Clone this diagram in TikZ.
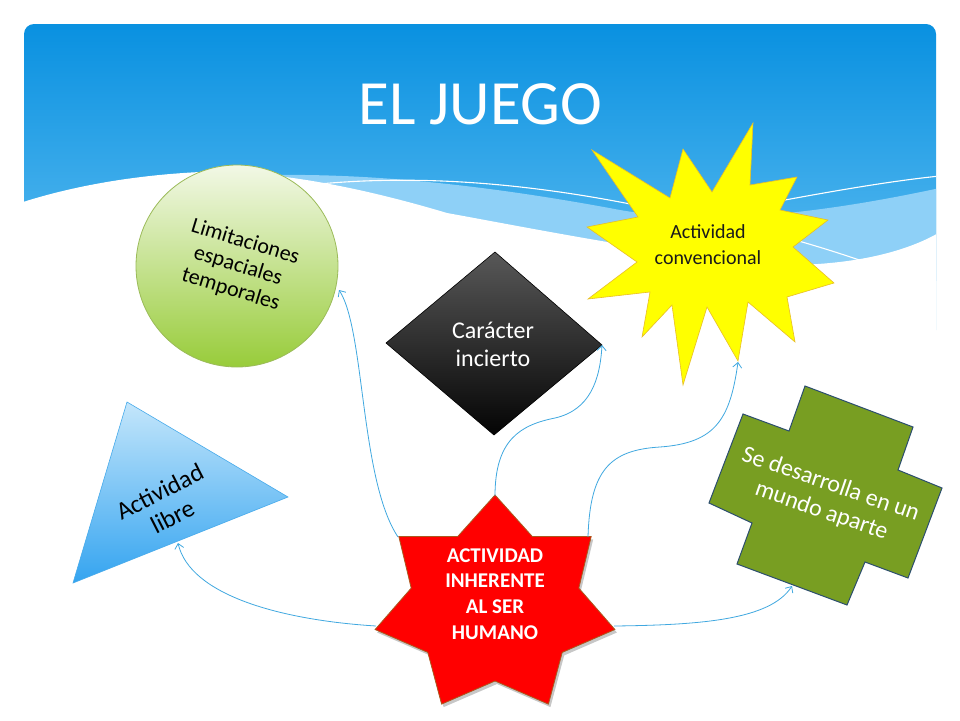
\documentclass[tikz,border=0pt]{standalone}
\usepackage{fontspec}
\setmainfont{Carlito}
\usetikzlibrary{arrows.meta}
\definecolor{skytop}{RGB}{8,144,224}
\definecolor{skybot}{RGB}{88,186,240}
\definecolor{bandc}{RGB}{142,208,247}
\definecolor{connc}{RGB}{64,168,224}
\definecolor{circtop}{RGB}{242,248,230}
\definecolor{circbot}{RGB}{152,204,58}
\definecolor{circline}{RGB}{155,187,89}
\definecolor{tritop}{RGB}{196,230,251}
\definecolor{tribot}{RGB}{52,164,240}
\definecolor{triline}{RGB}{70,170,235}
\definecolor{diatop}{RGB}{88,88,88}
\definecolor{diabot}{RGB}{4,4,4}
\definecolor{starfill}{RGB}{255,255,0}
\definecolor{starline}{RGB}{232,190,40}
\definecolor{crossfill}{RGB}{120,158,34}
\definecolor{crossline}{RGB}{44,78,110}
\definecolor{redfill}{RGB}{255,0,0}
\definecolor{redline}{RGB}{170,90,30}
\definecolor{darktext}{RGB}{26,26,26}
\begin{document}
\begin{tikzpicture}[x=1pt,y=-1pt,
  connector/.style={draw=connc, line width=0.8pt, -{Straight Barb[length=5pt,width=9pt]}},
  lbl/.style={align=center, inner sep=0pt},
  wline/.style={draw=white, line width=1.1pt}]
\useasboundingbox (0,0) rectangle (960,720);
\fill[white] (0,0) rectangle (960,720);
% sky background
\begin{scope}
  \clip[rounded corners=10pt] (24,24) rectangle (936,760);
  \shade[top color=skytop, bottom color=skybot] (20,20) rectangle (940,280);
  \fill[bandc] (240,176) .. controls (330,172) and (450,178) .. (620,210)
     .. controls (700,224) and (800,218) .. (940,188) -- (940,330) -- (240,330) -- cycle;
  \draw[wline] (300,186) .. controls (420,172) and (540,185) .. (650,208);
  \draw[wline] (785,200) .. controls (850,188) and (900,180) .. (940,176);
  \fill[white] (20,203) .. controls (60,190) and (120,176) .. (200,172)
     .. controls (280,170) and (370,190) .. (447,213)
     .. controls (530,228) and (700,262) .. (793,265)
     .. controls (860,264) and (910,250) .. (940,232) -- (940,760) -- (20,760) -- cycle;
  \draw[wline] (795,240) .. controls (820,247) and (845,255) .. (868,263);
\end{scope}
% title
\node[lbl, text=white, font=\fontsize{63}{63}\selectfont, anchor=base] (title) at (480,124) {EL JUEGO};
% circle
\shadedraw[top color=circtop, bottom color=circbot, draw=circline, line width=0.8pt] (237,266) circle[radius=101];
\node[lbl, rotate=-17, font=\fontsize{22}{25}\selectfont] (lim) at (238,266) {Limitaciones\\espaciales\\temporales};
% triangle
\shadedraw[top color=tritop, bottom color=tribot, draw=triline, line width=0.6pt] (127,402) -- (288,497) -- (73,583) -- cycle;
\node[lbl, rotate=27, font=\fontsize{25}{28}\selectfont] (libre) at (166,504) {Actividad\\libre};
% diamond
\shadedraw[top color=diatop, bottom color=diabot, draw=black, line width=0.6pt] (495,252) -- (602,345) -- (494,435) -- (386,343) -- cycle;
\node[lbl, text=white, font=\fontsize{24}{28}\selectfont] (incierto) at (493,344) {Carácter\\incierto};
% yellow star
\filldraw[fill=starfill, draw=starline, line width=0.6pt]
  (592,150) -- (670,198) -- (683,149) -- (712,192) -- (753,123) -- (750,185) -- (797,177) -- (780,210)
  -- (828,220) -- (793,247) -- (834,283) -- (787,297) -- (795,342) -- (748,302) -- (738,361) -- (707,307)
  -- (683,385) -- (672,305) -- (642,337) -- (650,292) -- (588,299) -- (637,262) -- (587,227) -- (638,217) -- cycle;
\node[lbl, text=darktext, font=\fontsize{20}{26}\selectfont] (conv) at (708,245) {Actividad\\convencional};
% green cross
\filldraw[fill=crossfill, draw=crossline, line width=1pt]
  (805,386) -- (913,427) -- (898,470) -- (942,488) -- (908,578) -- (865,562) -- (847,605) -- (737,564)
  -- (752,523) -- (709,503) -- (743,414) -- (789,431) -- cycle;
\node[lbl, text=white, rotate=-19, font=\fontsize{24}{28}\selectfont] (mundo) at (826,498) {Se desarrolla en un\\mundo aparte};
% red star shadow and star
\fill[black, opacity=0.22, xshift=2pt, yshift=-3pt]
  (495,495) -- (532.3,536.5) -- (591.2,536.4) -- (578.8,588.1) -- (614.9,629.5) -- (562.2,652.4) -- (548.4,704.1)
  -- (495,681) -- (441.6,704.1) -- (427.8,652.4) -- (375.1,629.5) -- (411.2,588.1) -- (398.8,536.4) -- (457.7,536.5) -- cycle;
\filldraw[fill=redfill, draw=redline, line width=0.8pt]
  (495,495) -- (532.3,536.5) -- (591.2,536.4) -- (578.8,588.1) -- (614.9,629.5) -- (562.2,652.4) -- (548.4,704.1)
  -- (495,681) -- (441.6,704.1) -- (427.8,652.4) -- (375.1,629.5) -- (411.2,588.1) -- (398.8,536.4) -- (457.7,536.5) -- cycle;
\node[lbl, text=white, font=\bfseries\fontsize{21}{25.7}\selectfont] (hum) at (495,594) {ACTIVIDAD\\INHERENTE\\AL SER\\HUMANO};
% connector end points
\coordinate (hum-w) at (376,626);
\coordinate (hum-nw) at (398,537);
\coordinate (hum-n) at (495,496);
\coordinate (hum-ne) at (588,537);
\coordinate (hum-e) at (614,626);
\coordinate (libre-s) at (178,543);
\coordinate (lim-e) at (339,290);
\coordinate (incierto-e) at (602,345);
\coordinate (conv-s) at (738,362);
\coordinate (mundo-s) at (792,586);
% connectors
\draw[connector] (hum-w) .. controls (280,620) and (190,595) .. (libre-s);
\draw[connector] (hum-nw) .. controls (360,480) and (365,330) .. (lim-e);
\draw[connector] (hum-n) .. controls (495,440) and (520,425) .. (555,418) .. controls (590,410) and (600,380) .. (incierto-e);
\draw[connector] (hum-ne) .. controls (590,470) and (610,450) .. (660,447) .. controls (715,443) and (730,420) .. (conv-s);
\draw[connector] (hum-e) .. controls (700,625) and (770,620) .. (mundo-s);
\end{tikzpicture}
\end{document}
